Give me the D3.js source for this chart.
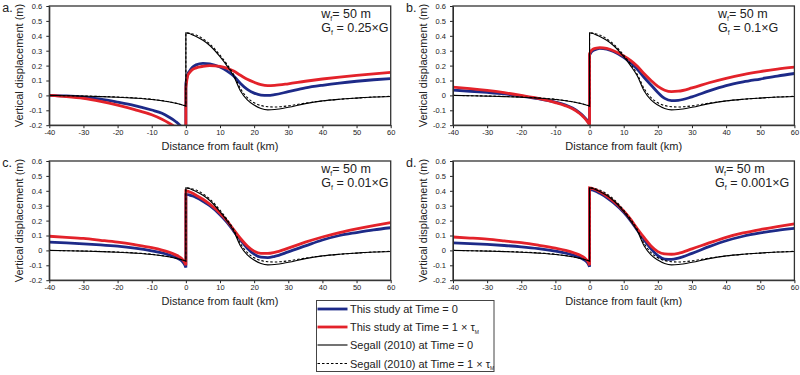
<!DOCTYPE html>
<html>
<head>
<meta charset="utf-8">
<script src="https://cdn.jsdelivr.net/npm/d3@7"></script>
<style>
  body { margin: 0; background: #fff; }
  svg { font-family: "Liberation Sans", Arial, sans-serif; }
</style>
</head>
<body>
<svg id="chart" width="800" height="375"></svg>
<script>
// x grids, left and right of the fault (x = 0 appears in both -> vertical jump)
const xLeft  = [-40, -35, -30, -25, -20, -15, -10, -7, -5, -3, -2, -1, -0.5, 0];
const xRight = [0, 0.5, 1, 2, 3, 5, 7, 10, 12, 14, 16, 18, 20, 22, 24, 26, 30, 35, 40, 45, 50, 55, 60];

const xTicks = [-40, -30, -20, -10, 0, 10, 20, 30, 40, 50, 60];
const yTicks = [-0.2, -0.1, 0, 0.1, 0.2, 0.3, 0.4, 0.5, 0.6];

// Segall (2010), same in every panel
const segallT0Left  = [0, -0.002, -0.005, -0.008, -0.012, -0.018, -0.027, -0.036, -0.043, -0.053, -0.058, -0.065, -0.068, -0.072];
const segallT0Right = [0.42, 0.418, 0.415, 0.405, 0.395, 0.37, 0.335, 0.26, 0.2, 0.13, 0.03, -0.03, -0.065, -0.088, -0.097, -0.095, -0.08, -0.055, -0.037, -0.026, -0.018, -0.011, -0.007];
const segallTMLeft  = [0, -0.002, -0.004, -0.007, -0.011, -0.017, -0.026, -0.035, -0.042, -0.052, -0.057, -0.064, -0.067, -0.07];
const segallTMRight = [0.42, 0.419, 0.418, 0.412, 0.405, 0.38, 0.345, 0.27, 0.21, 0.14, 0.045, -0.015, -0.05, -0.068, -0.076, -0.078, -0.07, -0.052, -0.037, -0.026, -0.018, -0.011, -0.006];

// a. Gf = 0.25 x G
const aT0Left  = [0, -0.004, -0.012, -0.025, -0.045, -0.068, -0.098, -0.12, -0.145, -0.175, -0.195, -0.225, -0.26, -0.35];
const aT0Right = [0.08, 0.14, 0.16, 0.19, 0.205, 0.215, 0.212, 0.19, 0.165, 0.13, 0.08, 0.04, 0.015, 0.002, 0, 0.005, 0.025, 0.05, 0.068, 0.083, 0.095, 0.105, 0.113];
const aTMLeft  = [0, -0.008, -0.02, -0.04, -0.065, -0.095, -0.13, -0.16, -0.185, -0.215, -0.235, -0.26, -0.29, -0.35];
const aTMRight = [0.05, 0.13, 0.15, 0.175, 0.185, 0.195, 0.2, 0.195, 0.183, 0.163, 0.135, 0.108, 0.088, 0.072, 0.065, 0.067, 0.078, 0.095, 0.11, 0.123, 0.135, 0.145, 0.155];

// b. Gf = 0.1 x G
const bT0Left  = [0.035, 0.028, 0.02, 0.01, -0.005, -0.022, -0.045, -0.065, -0.085, -0.115, -0.135, -0.16, -0.175, -0.19];
const bT0Right = [0.27, 0.29, 0.3, 0.31, 0.315, 0.31, 0.295, 0.255, 0.22, 0.175, 0.12, 0.07, 0.02, -0.02, -0.035, -0.033, -0.01, 0.03, 0.065, 0.09, 0.11, 0.13, 0.147];
const bTMLeft  = [0.055, 0.045, 0.033, 0.018, 0, -0.02, -0.048, -0.07, -0.09, -0.12, -0.14, -0.165, -0.18, -0.2];
const bTMRight = [0.28, 0.3, 0.31, 0.318, 0.32, 0.315, 0.3, 0.265, 0.235, 0.195, 0.145, 0.1, 0.06, 0.035, 0.025, 0.028, 0.05, 0.085, 0.115, 0.14, 0.16, 0.177, 0.19];

// c. Gf = 0.01 x G
const cT0Left  = [0.055, 0.05, 0.044, 0.037, 0.028, 0.015, -0.003, -0.017, -0.03, -0.047, -0.058, -0.075, -0.09, -0.115];
const cT0Right = [0.375, 0.375, 0.372, 0.365, 0.355, 0.33, 0.3, 0.24, 0.19, 0.13, 0.07, 0.015, -0.025, -0.045, -0.048, -0.04, -0.01, 0.03, 0.07, 0.1, 0.12, 0.138, 0.152];
const cTMLeft  = [0.095, 0.088, 0.08, 0.068, 0.055, 0.038, 0.018, 0.002, -0.012, -0.03, -0.042, -0.06, -0.075, -0.1];
const cTMRight = [0.4, 0.398, 0.393, 0.383, 0.37, 0.343, 0.31, 0.25, 0.2, 0.14, 0.08, 0.03, -0.005, -0.02, -0.02, -0.013, 0.015, 0.055, 0.09, 0.12, 0.145, 0.167, 0.187];

// d. Gf = 0.001 x G
const dT0Left  = [0.05, 0.046, 0.04, 0.033, 0.024, 0.012, -0.005, -0.018, -0.03, -0.047, -0.058, -0.073, -0.087, -0.11];
const dT0Right = [0.41, 0.408, 0.404, 0.395, 0.383, 0.355, 0.32, 0.255, 0.2, 0.135, 0.07, 0.01, -0.035, -0.058, -0.06, -0.052, -0.02, 0.025, 0.065, 0.095, 0.117, 0.135, 0.148];
const dTMLeft  = [0.09, 0.083, 0.075, 0.064, 0.052, 0.035, 0.015, 0, -0.013, -0.03, -0.042, -0.06, -0.074, -0.1];
const dTMRight = [0.42, 0.418, 0.414, 0.405, 0.393, 0.365, 0.33, 0.265, 0.21, 0.145, 0.085, 0.03, -0.008, -0.024, -0.026, -0.02, 0.01, 0.05, 0.088, 0.117, 0.14, 0.16, 0.178];

const legendLabels = ["This study at Time = 0", "This study at Time = 1 \u00d7 \u03c4", "Segall (2010) at Time = 0", "Segall (2010) at Time = 1 \u00d7 \u03c4"];

const BLUE = "#1d2a88", RED = "#e3222a";

const panels = [
  {tag: "a.", gf: "0.25", t0: [aT0Left, aT0Right], tm: [aTMLeft, aTMRight], left: 49.3, top: 6,   noteX: 272},
  {tag: "b.", gf: "0.1",  t0: [bT0Left, bT0Right], tm: [bTMLeft, bTMRight], left: 453,  top: 6,   noteX: 265},
  {tag: "c.", gf: "0.01", t0: [cT0Left, cT0Right], tm: [cTMLeft, cTMRight], left: 49.3, top: 161, noteX: 272},
  {tag: "d.", gf: "0.001",t0: [dT0Left, dT0Right], tm: [dTMLeft, dTMRight], left: 453,  top: 161, noteX: 262}
];

const W = 341.4, H = 119.2;
const svg = d3.select("#chart");

panels.forEach((p, i) => {
  const x = d3.scaleLinear().domain([-40, 60]).range([0, W]);
  const y = d3.scaleLinear().domain([-0.2, 0.6]).range([H, 0]);

  const g = svg.append("g").attr("transform", `translate(${p.left},${p.top})`);

  g.append("clipPath").attr("id", "clip" + i)
    .append("rect").attr("width", W).attr("height", H);

  const line = d3.line()
    .x(d => x(d[0]))
    .y(d => y(d[1]))
    .curve(d3.curveMonotoneX);

  // left branch + right branch joined, so the jump at the fault is drawn
  function branchPath(vals) {
    const l = line(xLeft.map((v, k) => [v, vals[0][k]]));
    const r = line(xRight.map((v, k) => [v, vals[1][k]]));
    return l + r.replace(/^M/, "L");
  }

  const plot = g.append("g").attr("clip-path", `url(#clip${i})`);

  plot.append("path").attr("d", branchPath(p.t0))
    .attr("fill", "none").attr("stroke", BLUE).attr("stroke-width", 2.8);
  plot.append("path").attr("d", branchPath(p.tm))
    .attr("fill", "none").attr("stroke", RED).attr("stroke-width", 2.8);
  plot.append("path").attr("d", branchPath([segallT0Left, segallT0Right]))
    .attr("fill", "none").attr("stroke", "#000").attr("stroke-width", 1.1);
  plot.append("path").attr("d", branchPath([segallTMLeft, segallTMRight]))
    .attr("fill", "none").attr("stroke", "#000").attr("stroke-width", 1.1)
    .attr("stroke-dasharray", "2.5,2");

  // axes
  const yAxis = d3.axisLeft(y).tickValues(yTicks).tickSize(3).tickSizeOuter(0)
    .tickPadding(4).tickFormat(d => String(d));
  const xAxis = d3.axisBottom(x).tickValues(xTicks).tickSize(3).tickSizeOuter(0)
    .tickPadding(1).tickFormat(d => String(d));

  g.append("g").call(yAxis)
    .call(a => a.selectAll("text").attr("font-size", 7.5).attr("fill", "#222"))
    .call(a => a.selectAll("line,path").attr("stroke", "#222"));
  g.append("g").attr("transform", `translate(0,${H})`).call(xAxis)
    .call(a => a.selectAll("text").attr("font-size", 7.5).attr("fill", "#222"))
    .call(a => a.selectAll("line,path").attr("stroke", "#222"));

  // frame
  g.append("rect").attr("width", W).attr("height", H)
    .attr("fill", "none").attr("stroke", "#333").attr("stroke-width", 1.3);

  // axis titles
  g.append("text")
    .attr("transform", `translate(-26,${H / 2}) rotate(-90)`)
    .attr("text-anchor", "middle")
    .attr("font-size", 11).attr("fill", "#222")
    .text("Vertical displacement (m)");
  g.append("text")
    .attr("x", W / 2).attr("y", H + 25)
    .attr("text-anchor", "middle")
    .attr("font-size", 11).attr("fill", "#222")
    .text("Distance from fault (km)");

  // panel tag
  svg.append("text")
    .attr("x", p.left - 47).attr("y", p.top + 6)
    .attr("font-size", 12.5).attr("fill", "#222")
    .text(p.tag);

  // annotation
  const n1 = g.append("text").attr("x", p.noteX).attr("y", 11.5)
    .attr("font-size", 12.5).attr("fill", "#222");
  n1.append("tspan").text("w");
  n1.append("tspan").attr("dy", 3).attr("font-size", 7).text("f");
  n1.append("tspan").attr("dy", -3).text("= 50 m");
  const n2 = g.append("text").attr("x", p.noteX).attr("y", 25.5)
    .attr("font-size", 12.5).attr("fill", "#222");
  n2.append("tspan").text("G");
  n2.append("tspan").attr("dy", 3).attr("font-size", 7).text("f");
  n2.append("tspan").attr("dy", -3).text(` = ${p.gf}\u00d7G`);
});

// legend
const legend = svg.append("g").attr("transform", "translate(316.5,300.5)");
legend.append("rect").attr("width", 177.5).attr("height", 71)
  .attr("fill", "#fff").attr("stroke", "#444").attr("stroke-width", 1);

const legStyles = [
  {stroke: BLUE, width: 2.8, dash: null},
  {stroke: RED, width: 2.8, dash: null},
  {stroke: "#000", width: 1.1, dash: null},
  {stroke: "#000", width: 1.1, dash: "2.5,2"}
];
const legY = [8.5, 26.5, 44.5, 63];

legendLabels.forEach((lab, k) => {
  legend.append("line")
    .attr("x1", 1).attr("x2", 31).attr("y1", legY[k]).attr("y2", legY[k])
    .attr("stroke", legStyles[k].stroke).attr("stroke-width", legStyles[k].width)
    .attr("stroke-dasharray", legStyles[k].dash);
  const t = legend.append("text")
    .attr("x", 33.5).attr("y", legY[k] + 4)
    .attr("font-size", 11).attr("fill", "#222");
  t.append("tspan").text(lab);
  if (k % 2 === 1) {
    t.append("tspan").attr("dy", 2.5).attr("font-size", 5).text("M");
  }
});
</script>
</body>
</html>
